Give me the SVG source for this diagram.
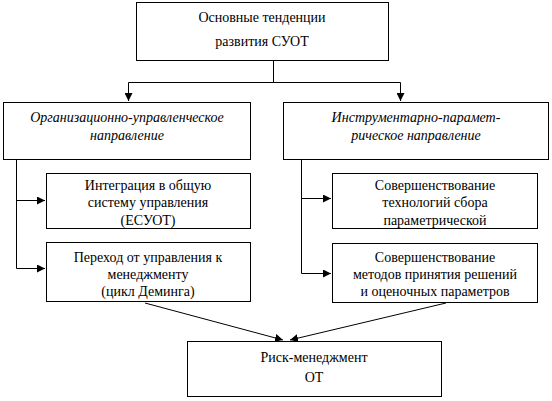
<svg xmlns="http://www.w3.org/2000/svg" width="552" height="401" viewBox="0 0 552 401" font-family="Liberation Serif, Times New Roman, DejaVu Serif, serif" font-size="14">
<style>
.box{fill:#fff;stroke:#000;stroke-width:1}
.t{fill:#000;text-anchor:middle}
.i{font-style:italic}
.c{fill:none;stroke:#000;stroke-width:1}
</style>
<defs>
<marker id="ah" viewBox="0 0 10 10" refX="10" refY="5" markerWidth="8" markerHeight="8" markerUnits="userSpaceOnUse" orient="auto">
<path d="M0,0 L10,5 L0,10 z" fill="#000"/>
</marker>
<clipPath id="cp1"><rect x="46" y="173" width="204" height="55"/></clipPath>
<clipPath id="cp3"><rect x="332" y="173" width="205" height="55"/></clipPath>
</defs>
<g id="connectors">
<path class="c" d="M273.5,61 V82.5"/>
<path class="c" d="M128.5,82.5 H400.5"/>
<path class="c" d="M128.5,82.5 V101" marker-end="url(#ah)"/>
<path class="c" d="M400.5,82.5 V101" marker-end="url(#ah)"/>
<path class="c" d="M16.5,159 V268.5 H45" marker-end="url(#ah)"/>
<path class="c" d="M16.5,200.5 H45" marker-end="url(#ah)"/>
<path class="c" d="M301.5,160 V273.5 H331" marker-end="url(#ah)"/>
<path class="c" d="M301.5,198.5 H331" marker-end="url(#ah)"/>
<path class="c" d="M145,303 L283,340" marker-end="url(#ah)"/>
<path class="c" d="M446,303 L290,340" marker-end="url(#ah)"/>
</g>
<g id="n-top">
<rect class="box" x="136.5" y="2.5" width="252" height="58"/>
<text class="t" x="262" y="22" font-family="Liberation Serif">Основные тенденции</text>
<text class="t" x="262" y="46" font-family="Liberation Serif">развития СУОТ</text>
</g>
<g id="n-org">
<rect class="box" x="3.5" y="102.5" width="247" height="57"/>
<text class="t i" x="127" y="122">Организационно-управленческое</text>
<text class="t i" x="127" y="140">направление</text>
</g>
<g id="n-instr">
<rect class="box" x="283.5" y="102.5" width="265" height="57"/>
<text class="t i" x="416" y="122">Инструментарно-парамет-</text>
<text class="t i" x="416" y="140">рическое направление</text>
</g>
<g id="n-integr">
<rect class="box" x="46.5" y="173.5" width="204" height="55"/>
<g clip-path="url(#cp1)">
<text class="t" x="148" y="190">Интеграция в общую</text>
<text class="t" x="148" y="207">систему управления</text>
<text class="t" x="148" y="225">(ЕСУОТ)</text>
</g>
</g>
<g id="n-pereh">
<rect class="box" x="46.5" y="242.5" width="204" height="59"/>
<text class="t" x="148" y="262">Переход от управления к</text>
<text class="t" x="148" y="279">менеджменту</text>
<text class="t" x="148" y="296">(цикл Деминга)</text>
</g>
<g id="n-tech">
<rect class="box" x="332.5" y="173.5" width="205" height="55"/>
<g clip-path="url(#cp3)">
<text class="t" x="435" y="190">Совершенствование</text>
<text class="t" x="435" y="207">технологий сбора</text>
<text class="t" x="435" y="225">параметрической</text>
</g>
</g>
<g id="n-metod">
<rect class="box" x="332.5" y="243.5" width="205" height="59"/>
<text class="t" x="435" y="262">Совершенствование</text>
<text class="t" x="435" y="279">методов принятия решений</text>
<text class="t" x="435" y="296">и оценочных параметров</text>
</g>
<g id="n-risk">
<rect class="box" x="187.5" y="341.5" width="254" height="55"/>
<text class="t" x="314" y="362">Риск-менеджмент</text>
<text class="t" x="314" y="382">ОТ</text>
</g>
</svg>
